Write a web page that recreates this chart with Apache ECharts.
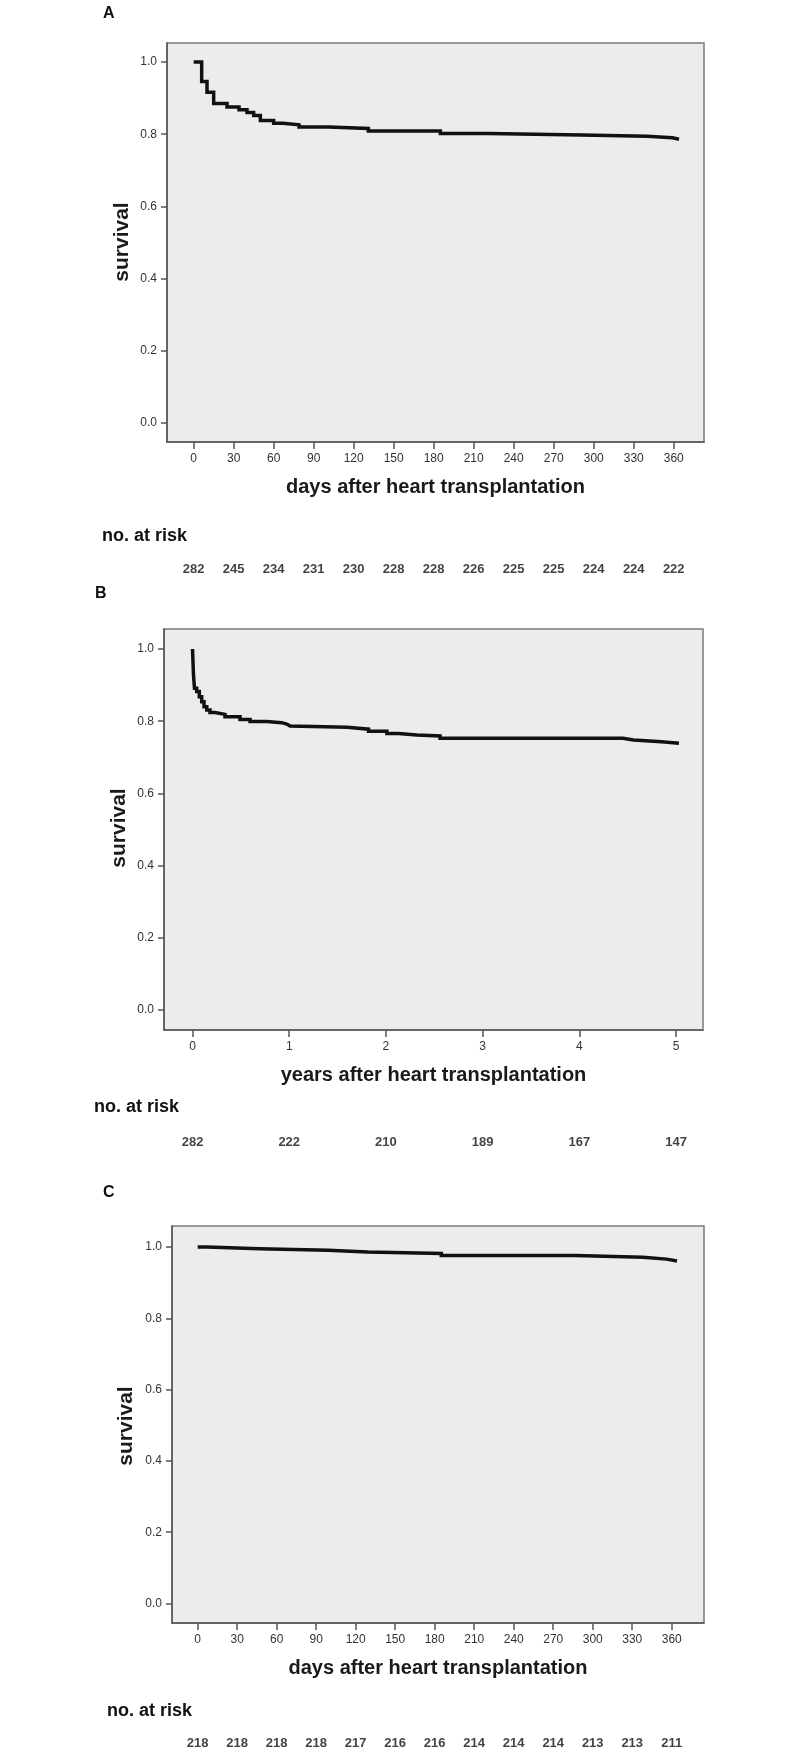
<!DOCTYPE html>
<html>
<head>
<meta charset="utf-8">
<script src="https://cdn.jsdelivr.net/npm/echarts@6/dist/echarts.min.js"></script>
<style>
html,body{margin:0;padding:0;background:#fff;}
#c{width:800px;height:1749px;}
</style>
</head>
<body>
<div id="c"></div>
<script>
// ---- data ----
const timesA = [0,6,10,15,25,34,40,45,50,60,67,79,101,131,185,221,291,340,359,364];
const survA  = [1.0,0.946,0.916,0.885,0.875,0.868,0.860,0.852,0.838,0.830,0.826,0.820,0.816,0.809,0.802,0.798,0.794,0.790,0.786,0.786];

const timesB = [0,0.01,0.02,0.043,0.07,0.095,0.119,0.147,0.181,0.233,0.336,0.491,0.595,0.767,0.922,0.974,1.008,1.6,1.82,2.01,2.13,2.32,2.56,4.45,4.56,4.85,5.03];
const survB  = [1.0,0.928,0.891,0.882,0.868,0.854,0.840,0.831,0.824,0.819,0.8125,0.805,0.799,0.796,0.792,0.787,0.783,0.778,0.772,0.766,0.762,0.759,0.753,0.748,0.743,0.739,0.739];

const timesC = [0,7,47,99,129,185,287,338,356,364];
const survC  = [1.0,0.995,0.991,0.986,0.982,0.976,0.971,0.966,0.961,0.961];

const dayTicks  = [0,30,60,90,120,150,180,210,240,270,300,330,360];
const yearTicks = [0,1,2,3,4,5];
const survTicks = [0,0.2,0.4,0.6,0.8,1.0];

const riskTimesA = dayTicks;
const riskA = [282,245,234,231,230,228,228,226,225,225,224,224,222];
const riskTimesB = yearTicks;
const riskB = [282,222,210,189,167,147];
const riskTimesC = dayTicks;
const riskC = [218,218,218,218,217,216,216,214,214,214,213,213,211];

const panelLetters = ['A','B','C'];
const xTitles = ['days after heart transplantation','years after heart transplantation','days after heart transplantation'];
const yTitle = 'survival';
const riskTitle = 'no. at risk';

// ---- layout ----
const FONT = '"Liberation Sans", Arial, sans-serif';
const panels = [
  {grid:{left:167,top:43,width:537,height:399}, xmin:-20, xmax:382.7, ymin:-0.0526, ymax:1.0526,
   ticks:dayTicks, times:timesA, surv:survA, riskT:riskTimesA, risk:riskA, riskY:569,
   letter:[103,14], riskLabel:[102,537], yName:[122,242]},
  {grid:{left:164,top:629,width:539,height:401}, xmin:-0.295, xmax:5.279, ymin:-0.0554, ymax:1.0554,
   ticks:yearTicks, times:timesB, surv:survB, riskT:riskTimesB, risk:riskB, riskY:1142,
   letter:[95,594], riskLabel:[94,1108], yName:[119,828]},
  {grid:{left:172,top:1226,width:532,height:397}, xmin:-19.5, xmax:384.5, ymin:-0.0547, ymax:1.0589,
   ticks:dayTicks, times:timesC, surv:survC, riskT:riskTimesC, risk:riskC, riskY:1743,
   letter:[103,1193], riskLabel:[107,1712], yName:[126,1426]}
];

const grids=[], xAxes=[], yAxes=[], series=[], graphics=[];
panels.forEach((p,i)=>{
  const gi = grids.length;
  grids.push(Object.assign({show:true, backgroundColor:'#ececee', borderColor:'#7a7a7a', borderWidth:1.5}, p.grid));
  xAxes.push({type:'value', gridIndex:gi, min:p.xmin, max:p.xmax,
    axisLine:{show:true, onZero:false, lineStyle:{color:'#555', width:1.5}},
    axisTick:{show:true, customValues:p.ticks, length:7, lineStyle:{color:'#555', width:1.5}},
    axisLabel:{show:true, customValues:p.ticks, margin:11, color:'#333', fontSize:12, fontFamily:FONT},
    splitLine:{show:false},
    name:xTitles[i], nameLocation:'middle', nameGap:35, nameMoveOverlap:false,
    nameTextStyle:{fontFamily:FONT, fontWeight:'bold', fontSize:20, color:'#1a1a1a'}
  });
  yAxes.push({type:'value', gridIndex:gi, min:p.ymin, max:p.ymax,
    axisLine:{show:true, onZero:false, lineStyle:{color:'#555', width:1.5}},
    axisTick:{show:true, customValues:survTicks, length:6, lineStyle:{color:'#555', width:1.5}},
    axisLabel:{show:true, customValues:survTicks, margin:10, color:'#333', fontSize:12, fontFamily:FONT,
      formatter:v=>Number(v).toFixed(1)},
    splitLine:{show:false}
  });
  series.push({type:'line', xAxisIndex:gi, yAxisIndex:gi, step:'end', symbol:'none',
    data:p.times.map((t,k)=>[t,p.surv[k]]),
    lineStyle:{color:'#111', width:3.5, join:'miter', cap:'butt'}, silent:true, animation:false});

  // at-risk row grid
  const ri = grids.length;
  grids.push({left:p.grid.left, width:p.grid.width, top:p.riskY-5, height:10, show:false});
  xAxes.push({type:'value', gridIndex:ri, min:p.xmin, max:p.xmax, show:false});
  yAxes.push({type:'value', gridIndex:ri, min:0, max:1, show:false});
  series.push({type:'scatter', xAxisIndex:ri, yAxisIndex:ri, symbolSize:0, silent:true, animation:false,
    data:p.riskT.map((t,k)=>({value:[t,0.5], label:{formatter:String(p.risk[k])}})),
    label:{show:true, position:'inside', fontFamily:FONT, fontWeight:'bold', fontSize:13, color:'#111'}});

  graphics.push({type:'text', left:p.letter[0], top:p.letter[1]-8,
    style:{text:panelLetters[i], font:'bold 16px '+FONT, fill:'#111'}});
  graphics.push({type:'text', left:p.riskLabel[0], top:p.riskLabel[1]-10,
    style:{text:riskTitle, font:'bold 18px '+FONT, fill:'#111'}});
  graphics.push({type:'text', x:p.yName[0], y:p.yName[1], rotation:Math.PI/2,
    style:{text:yTitle, font:'bold 21px '+FONT, fill:'#1a1a1a', align:'center', verticalAlign:'middle'}});
});

const chart = echarts.init(document.getElementById('c'), null, {renderer:'canvas'});
chart.setOption({
  animation:false,
  backgroundColor:'#fff',
  grid:grids, xAxis:xAxes, yAxis:yAxes, series:series, graphic:graphics
});
</script>
</body>
</html>
